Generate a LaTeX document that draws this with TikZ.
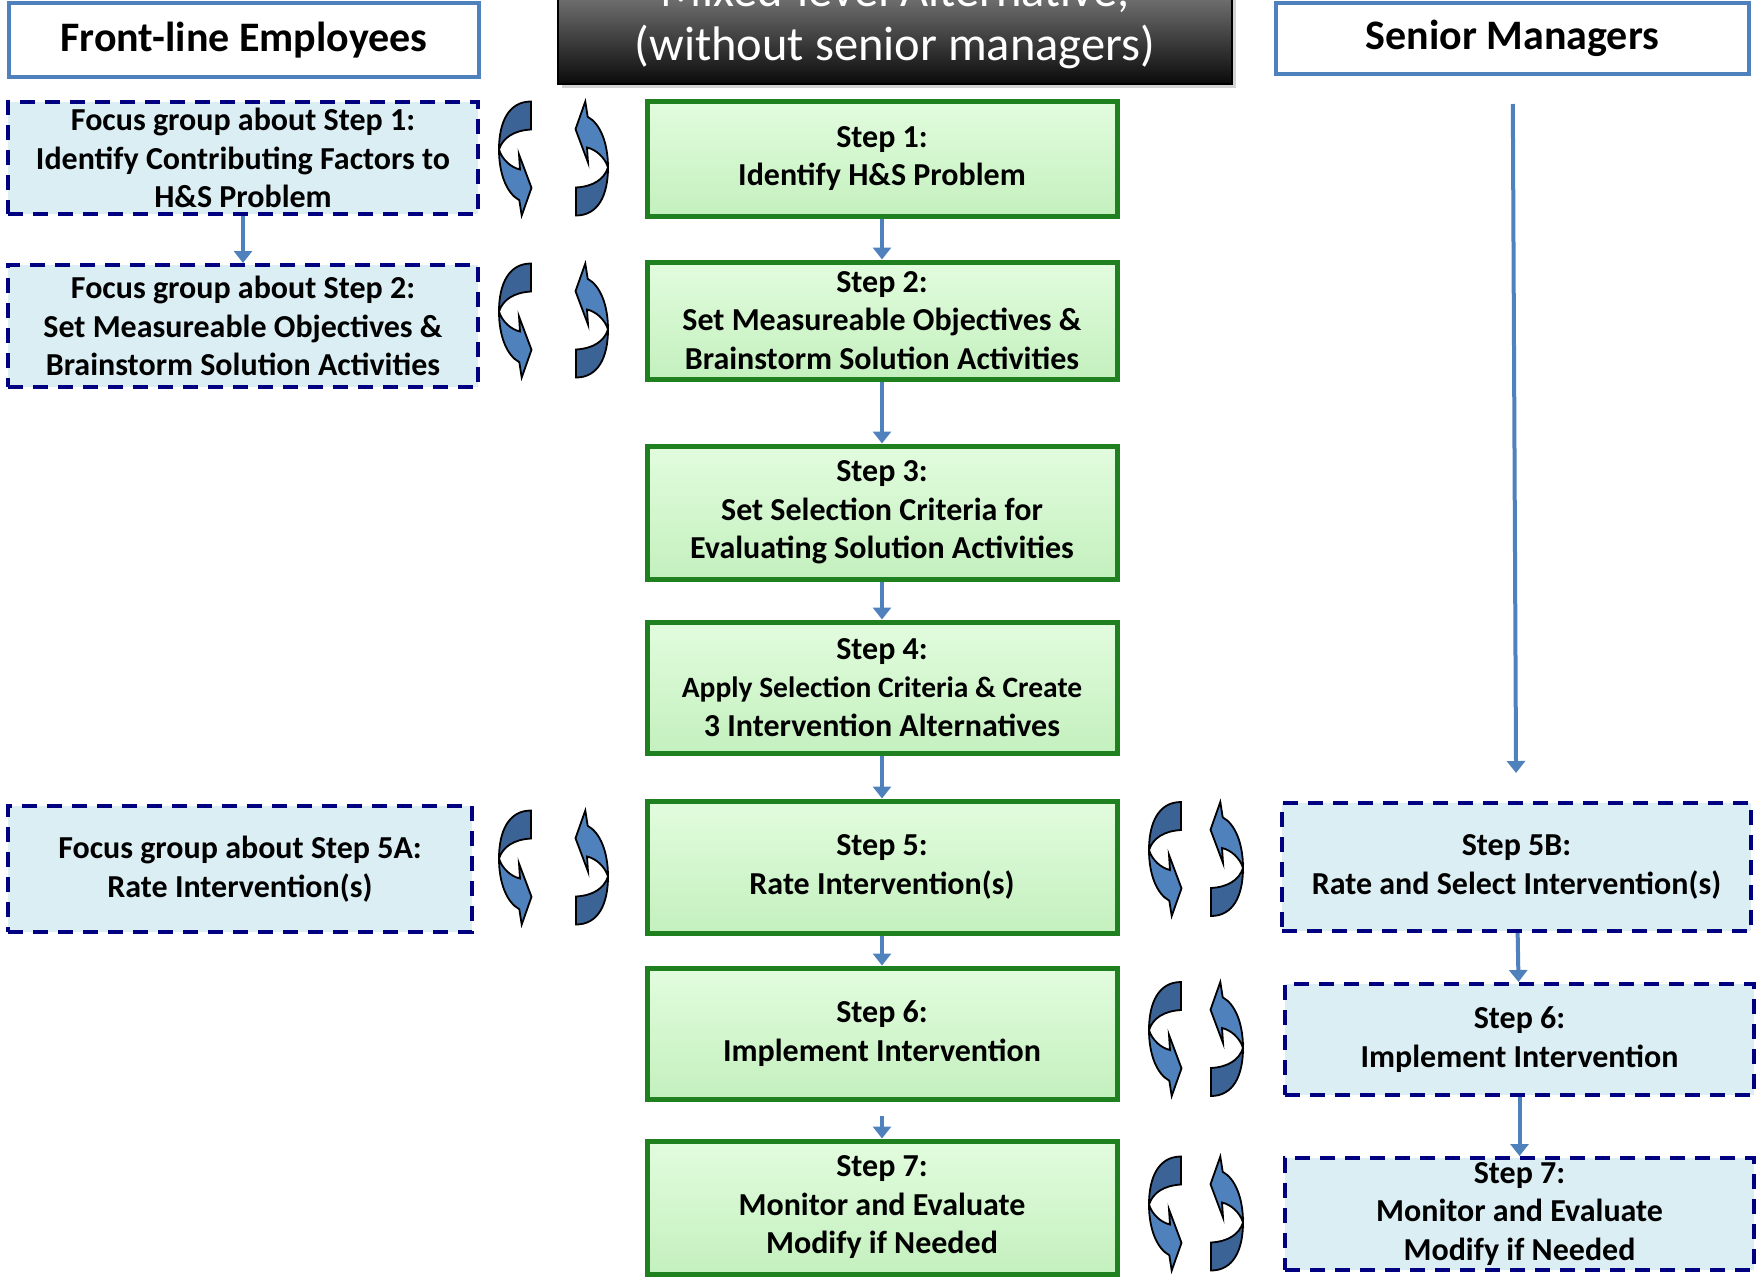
\documentclass[tikz,border=0pt]{standalone}
\usepackage{fontspec}
\setmainfont{Carlito}
\usetikzlibrary{arrows.meta,shadows}

\definecolor{linkblue}{RGB}{79,129,189}
\definecolor{twistdark}{RGB}{60,99,150}
\definecolor{twistlight}{RGB}{79,129,189}
\definecolor{stepgreen}{RGB}{30,128,30}
\definecolor{steptop}{RGB}{226,252,222}
\definecolor{stepbottom}{RGB}{196,240,190}
\definecolor{groupfill}{RGB}{219,238,244}
\definecolor{groupline}{RGB}{0,0,128}

% one twisted cycle arrow, crossing point at #1, turned by #2
\newcommand{\twistarrow}[2]{%
  \begin{scope}[shift={#1},rotate=#2]
    \filldraw[twist,fill=twistdark] (0,0) .. controls (0,-28) and (10,-48) .. (32,-48)
      -- (32,-20) .. controls (15,-19) and (4,-12) .. cycle;
    \filldraw[twist,fill=twistlight] (0,0) .. controls (3,10) and (12,18) .. (21,20)
      -- (20,5) -- (32.5,38.3) -- (22.7,66) -- (20.3,50.7)
      .. controls (8,44) and (0,25) .. cycle;
  \end{scope}}
% pair of cycle arrows: centre x, centre y, separation
\newcommand{\twistpair}[3]{%
  \begin{scope}[shift={(#1,#2)}]
    \twistarrow{(-#3/2,-9)}{0}
    \twistarrow{(#3/2,9)}{180}
  \end{scope}}

\begin{document}
\begin{tikzpicture}[x=1pt,y=-1pt,
  every node/.style={font=\fontsize{32}{38.5}\selectfont\bfseries,align=center,inner sep=0pt},
  rolebox/.style={draw=linkblue,line width=4pt,fill=white,font=\fontsize{42}{46}\selectfont\bfseries},
  mixhead/.style={top color=black!38,bottom color=black!96,draw=black,line width=1.5pt,
    text=white,font=\fontsize{48.5}{53.5}\selectfont\mdseries,minimum width=674pt,minimum height=126.5pt,
    drop shadow={opacity=0.35,shadow xshift=4pt,shadow yshift=-4pt}},
  stepbox/.style={draw=stepgreen,line width=5pt,top color=steptop,bottom color=stepbottom,minimum width=470pt},
  groupbox/.style={draw=groupline,fill=groupfill,line width=4pt,dash pattern=on 15pt off 10pt},
  flow/.style={draw=linkblue,line width=4pt,-{Triangle[width=18pt,length=12pt]}},
  twist/.style={draw=black,line width=1.8pt}]

  \useasboundingbox (0,0) rectangle (1758,1283);

  % column heads
  \node[rolebox,minimum width=470pt,minimum height=74pt] (front) at (244,40) {Front-line Employees};
  \node[mixhead] (mix) at (895,20.75) {Mixed-level Alternative,\\(without senior managers)};
  \node[rolebox,minimum width=473pt,minimum height=71pt] (senior) at (1512.5,38.5) {Senior Managers};

  % design team steps
  \node[stepbox,minimum height=115pt] (s1) at (882,158.5) {Step 1:\\Identify H\&S Problem};
  \node[stepbox,minimum height=117pt] (s2) at (882,320.5) {Step 2:\\Set Measureable Objectives \&\\Brainstorm Solution Activities};
  \node[stepbox,minimum height=133pt] (s3) at (882,512.5) {Step 3:\\Set Selection Criteria for\\Evaluating Solution Activities};
  \node[stepbox,minimum height=131pt] (s4) at (882,687.5) {Step 4:\\\fontsize{29.5}{36}\selectfont Apply Selection Criteria \& Create\\3 Intervention Alternatives};
  \node[stepbox,minimum height=132pt] (s5) at (882,867) {Step 5:\\Rate Intervention(s)};
  \node[stepbox,minimum height=131pt] (s6) at (882,1033.5) {Step 6:\\Implement Intervention};
  \node[stepbox,minimum height=133pt] (s7) at (882,1207.5) {Step 7:\\Monitor and Evaluate\\Modify if Needed};

  % front-line focus groups
  \node[groupbox,minimum width=470pt,minimum height=112pt] (fg1) at (243,158) {Focus group about Step 1:\\Identify Contributing Factors to\\H\&S Problem};
  \node[groupbox,minimum width=470pt,minimum height=122pt] (fg2) at (243,326) {Focus group about Step 2:\\Set Measureable Objectives \&\\Brainstorm Solution Activities};
  \node[groupbox,minimum width=464pt,minimum height=126pt] (fg5a) at (240,869) {Focus group about Step 5A:\\Rate Intervention(s)};

  % senior manager steps
  \node[groupbox,minimum width=469pt,minimum height=128pt] (s5b) at (1516.5,867) {Step 5B:\\Rate and Select Intervention(s)};
  \node[groupbox,minimum width=469pt,minimum height=111pt] (r6) at (1519.5,1039.5) {Step 6:\\Implement Intervention};
  \node[groupbox,minimum width=469pt,minimum height=112pt] (r7) at (1519.5,1214) {Step 7:\\Monitor and Evaluate\\Modify if Needed};

  % arrows
  \draw[flow] (s1) -- (s2);
  \draw[flow] (s2) -- (s3);
  \draw[flow] (s3) -- (s4);
  \draw[flow] (s4) -- (s5);
  \draw[flow] (s5) -- (s6);
  \draw[flow,shorten <=14pt] (s6) -- (s7);
  \draw[flow] (fg1) -- (fg2);
  \draw[flow,shorten <=28pt,shorten >=28pt] (senior) -- (s5b);
  \draw[flow] (s5b) -- (r6);
  \draw[flow] (r6) -- (r7);

  % cycle arrows
  \twistpair{553.5}{158.5}{109}
  \twistpair{553.5}{320.5}{109}
  \twistpair{553.5}{867.5}{109}
  \twistpair{1196}{859}{94}
  \twistpair{1196}{1039}{94}
  \twistpair{1196}{1213.5}{94}

\end{tikzpicture}
\end{document}
